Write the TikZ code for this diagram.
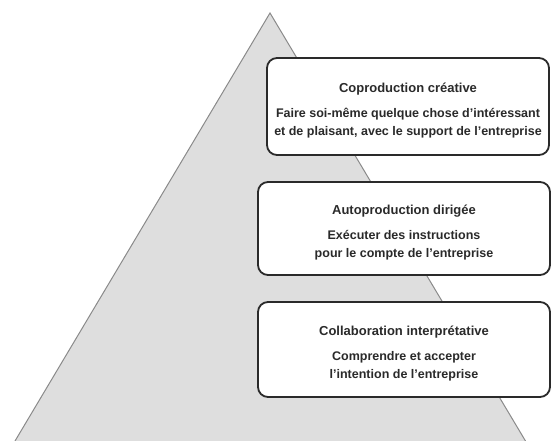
\documentclass[tikz,border=0pt]{standalone}
\usepackage{fontspec}
\newfontfamily\boxfont[BoldFont={Liberation Sans Bold}]{Liberation Sans}
\definecolor{pyrfill}{HTML}{DEDEDE}
\definecolor{pyredge}{HTML}{8A8A8A}
\definecolor{ink}{HTML}{2A2A2A}
\newcommand{\lvltitle}{\fontsize{13}{18}\selectfont}
\newcommand{\lvltext}{\fontsize{12.5}{18}\selectfont}
\tikzset{
  levelbox/.style={draw=ink, line width=1.8pt, rounded corners=10pt, fill=white, inner sep=0pt},
  leveltext/.style={align=center, inner sep=0pt, font=\fontsize{12.5}{18}\boxfont\bfseries, text=ink},
}
\begin{document}
\begin{tikzpicture}[x=1pt,y=-1pt]
\useasboundingbox (0,0) rectangle (552,441);
\clip (0,0) rectangle (552,441);
\coordinate (apex) at (270,13);
\coordinate (bl) at (15,441);
\coordinate (br) at (525.5,441);
\fill[pyrfill] (bl) -- (apex) -- (br) -- cycle;
\draw[pyredge, line width=1pt] (bl) -- (apex) -- (br);
\node[levelbox, minimum width=282pt, minimum height=97pt] (cop) at (408,106.5) {};
\node[leveltext, yshift=-4pt] (copt) at (cop.center)
  {\lvltitle Coproduction créative\\[7pt]\lvltext Faire soi-même quelque chose d’intéressant\\et de plaisant, avec le support de l’entreprise};
\node[levelbox, minimum width=292pt, minimum height=93pt] (auto) at (404,228.5) {};
\node[leveltext, yshift=-4pt] (autot) at (auto.center)
  {\lvltitle Autoproduction dirigée\\[7pt]\lvltext Exécuter des instructions\\pour le compte de l’entreprise};
\node[levelbox, minimum width=292pt, minimum height=95pt] (coll) at (404,349.5) {};
\node[leveltext, yshift=-4pt] (collt) at (coll.center)
  {\lvltitle Collaboration interprétative\\[7pt]\lvltext Comprendre et accepter\\l’intention de l’entreprise};
\end{tikzpicture}
\end{document}
